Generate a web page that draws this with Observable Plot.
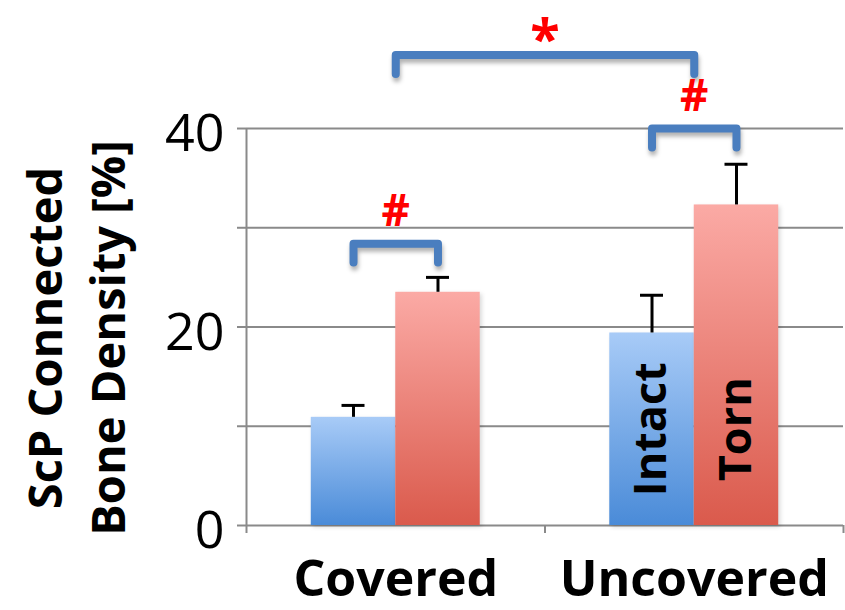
<!DOCTYPE html>
<html>
<head>
<meta charset="utf-8">
<script src="https://cdn.jsdelivr.net/npm/d3@7"></script>
<script src="https://cdn.jsdelivr.net/npm/@observablehq/plot@0.6"></script>
<style>
  html, body { margin: 0; padding: 0; background: #fff; }
  #chart svg g[stroke="#4a7ebf"] { filter: drop-shadow(1px 4px 2px rgba(0,0,0,0.30)); }
  #chart svg g[fill^="url"] { filter: drop-shadow(2px 2px 2px rgba(0,0,0,0.15)); }
</style>
</head>
<body>
<svg width="0" height="0" style="position:absolute">
  <defs>
    <linearGradient id="gradIntact" x1="0" y1="0" x2="0" y2="1">
      <stop offset="0" stop-color="#a8cbf7"/>
      <stop offset="1" stop-color="#4a8bd8"/>
    </linearGradient>
    <linearGradient id="gradTorn" x1="0" y1="0" x2="0" y2="1">
      <stop offset="0" stop-color="#fbaaa5"/>
      <stop offset="1" stop-color="#da5a4c"/>
    </linearGradient>
  </defs>
</svg>
<div id="chart"></div>
<script>
// ---- data ----
const categories = ["Covered", "Uncovered"];
const groups = ["Intact", "Torn"];
const intactMean = [10.9, 19.4];
const tornMean = [23.5, 32.3];
const intactSD = [1.2, 3.8];
const tornSD = [1.5, 4.1];
const yTickLabels = [0, 20, 40];
const yTickMarks = [0, 10, 20, 30, 40];
const yGrid = [10, 20, 30, 40];
const sigLabels = ["#", "#", "*"];
const bracketTop = [28.4, 40.0, 47.4];
const yTitle = "ScP Connected\nBone Density [%]";

// ---- layout constants (in x-scale units: one category = 1) ----
const barW = 0.283, capHalf = 0.0385, legDrop = 1.9, labelGap = 3.2;
const center = (i, j) => i + 0.5 + (j - 0.5) * barW;

const bars = [];
categories.forEach((c, i) => {
  groups.forEach((g, j) => {
    const mean = j === 0 ? intactMean[i] : tornMean[i];
    const sd = j === 0 ? intactSD[i] : tornSD[i];
    bars.push({category: c, group: g, x1: i + 0.5 + (j - 1) * barW, x2: i + 0.5 + j * barW,
               xc: center(i, j), mean, top: mean + sd});
  });
});

const spans = [[center(0, 0), center(0, 1)], [center(1, 0), center(1, 1)], [0.5, 1.5]];
const bracketPts = [];
const sig = [];
spans.forEach(([L, R], k) => {
  const t = bracketTop[k];
  bracketPts.push({k, x: L, y: t - legDrop}, {k, x: L, y: t}, {k, x: R, y: t}, {k, x: R, y: t - legDrop});
  sig.push({x: (L + R) / 2, y: t + labelGap, text: sigLabels[k]});
});

const gray = "#8a8a8a";
const chart = Plot.plot({
  width: 845,
  height: 610,
  marginLeft: 246,
  marginRight: 2,
  marginTop: 0,
  marginBottom: 85,
  x: {domain: [0, 2], axis: null},
  y: {domain: [0, 52.9], axis: null},
  style: {fontFamily: "Open Sans", background: "white", color: "black"},
  marks: [
    Plot.gridY({ticks: yGrid, stroke: gray, strokeOpacity: 1, strokeWidth: 2}),
    Plot.ruleY([0], {stroke: gray, strokeWidth: 2}),
    Plot.ruleX([0], {y1: 0, y2: 40, stroke: gray, strokeWidth: 2}),
    Plot.axisY({ticks: yTickMarks, tickSize: 9, tickFormat: () => "", stroke: gray, strokeWidth: 2}),
    Plot.axisY({ticks: yTickLabels, tickSize: 0, tickPadding: 22, fontSize: 52, dy: 6, fill: "black"}),
    Plot.axisX({ticks: [0, 1, 2], tickSize: 8, tickFormat: () => "", stroke: gray, strokeWidth: 2}),
    Plot.axisX({ticks: [0.5, 1.5], tickSize: 0, tickPadding: 35, tickFormat: d => categories[Math.floor(d)],
                fontSize: 50, fontWeight: "bold", fill: "black"}),
    Plot.rectY(bars.filter(d => d.group === "Intact"), {x1: "x1", x2: "x2", y1: 0, y2: "mean", fill: "url(#gradIntact)"}),
    Plot.rectY(bars.filter(d => d.group === "Torn"), {x1: "x1", x2: "x2", y1: 0, y2: "mean", fill: "url(#gradTorn)"}),
    Plot.ruleX(bars, {x: "xc", y1: "mean", y2: "top", stroke: "black", strokeWidth: 3}),
    Plot.ruleY(bars, {x1: d => d.xc - capHalf, x2: d => d.xc + capHalf, y: "top", stroke: "black", strokeWidth: 3}),
    Plot.text(bars.filter(d => d.category === "Uncovered"), {x: "xc", y: intactMean[1] / 2, text: "group",
              rotate: -90, fontSize: 45, fontWeight: "bold", fill: "black"}),
    Plot.line(bracketPts, {x: "x", y: "y", z: "k", stroke: "#4a7ebf", strokeWidth: 8, strokeLinejoin: "round"}),
    Plot.text(sig.filter(d => d.text === "#"), {x: "x", y: "y", text: "text", fontSize: 44, fontWeight: "bold", fill: "#ff0000"}),
    Plot.text(sig.filter(d => d.text === "*"), {x: "x", y: "y", text: "text", fontSize: 54, fontWeight: "bold", fill: "#ff0000", dy: 17}),
    Plot.text([yTitle], {frameAnchor: "left", textAnchor: "middle", lineAnchor: "middle", text: d => d, rotate: -90,
              fontSize: 47, fontWeight: "bold", lineHeight: 1.34, fill: "black", dx: -173, dy: 75})
  ]
});
document.getElementById("chart").appendChild(chart);
</script>
</body>
</html>
